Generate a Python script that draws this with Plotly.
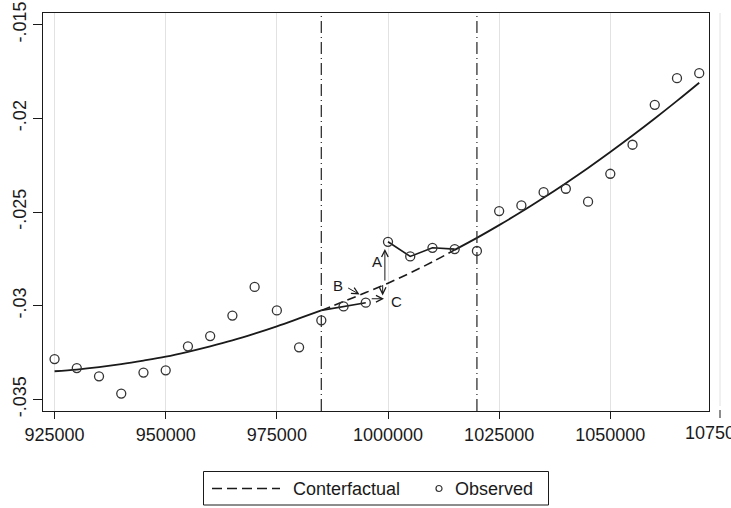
import plotly.graph_objects as go

# observed points
x_obs = [925000, 930000, 935000, 940000, 945000, 950000, 955000, 960000,
         965000, 970000, 975000, 980000, 985000, 990000, 995000, 1000000,
         1005000, 1010000, 1015000, 1020000, 1025000, 1030000, 1035000,
         1040000, 1045000, 1050000, 1055000, 1060000, 1065000, 1070000]
y_obs = [-0.03285, -0.03333, -0.03377, -0.03469, -0.03357, -0.03345,
         -0.03217, -0.03162, -0.03053, -0.02900, -0.03025, -0.03222,
         -0.03078, -0.03004, -0.02984, -0.02659, -0.02737, -0.02691,
         -0.02698, -0.02708, -0.02495, -0.02465, -0.02394, -0.02376,
         -0.02445, -0.02296, -0.02141, -0.01928, -0.01786, -0.01759]

y_fit = [-0.03350, -0.03341, -0.03328, -0.03312, -0.03293, -0.03272,
         -0.03246, -0.03217, -0.03185, -0.03149, -0.03110, -0.03068,
         -0.03025, -0.02978, -0.02930, -0.02880, -0.02825, -0.02766,
         -0.02702, -0.02638, -0.02570, -0.02499, -0.02424, -0.02346,
         -0.02265, -0.02180, -0.02092, -0.02001, -0.01907, -0.01810]

event_lines = [985000, 1020000]
x_ticks = [925000, 950000, 975000, 1000000, 1025000, 1050000]
y_ticks = [-0.035, -0.03, -0.025, -0.02, -0.015]
y_ticktext = ['-.035', '-.03', '-.025', '-.02', '-.015']

W, H = 731, 508
ML, MR, MT, MB = 43, 22, 13, 97
FONT = 'Liberation Sans, Arial, sans-serif'
INK = '#1a1a1a'


def px(x):
    return (x - ML) / (W - ML - MR)


def py(y):
    return (H - MB - y) / (H - MT - MB)


i0 = x_obs.index(985000)
i1 = x_obs.index(1015000)

fig = go.Figure()

# fitted line, solid outside the window
fig.add_trace(go.Scatter(x=x_obs[:i0 + 1], y=y_fit[:i0 + 1], mode='lines',
                         line=dict(color=INK, width=1.8, shape='spline'),
                         showlegend=False, hoverinfo='skip'))
fig.add_trace(go.Scatter(x=x_obs[i1:], y=y_fit[i1:], mode='lines',
                         line=dict(color=INK, width=1.8, shape='spline'),
                         showlegend=False, hoverinfo='skip'))
# counterfactual inside the window
fig.add_trace(go.Scatter(x=x_obs[i0:i1 + 1], y=y_fit[i0:i1 + 1], mode='lines',
                         line=dict(color=INK, width=1.6, dash='9px,5px',
                                   shape='spline'),
                         showlegend=False, hoverinfo='skip'))
# observed path inside the window
fig.add_trace(go.Scatter(x=[x_obs[i0]] + x_obs[i0 + 1:i0 + 3],
                         y=[y_fit[i0]] + y_obs[i0 + 1:i0 + 3], mode='lines',
                         line=dict(color=INK, width=1.6),
                         showlegend=False, hoverinfo='skip'))
fig.add_trace(go.Scatter(x=x_obs[i0 + 3:i1 + 1], y=y_obs[i0 + 3:i1 + 1],
                         mode='lines', line=dict(color=INK, width=1.6),
                         showlegend=False, hoverinfo='skip'))
# observed circles
fig.add_trace(go.Scatter(x=x_obs, y=y_obs, mode='markers',
                         marker=dict(symbol='circle-open', size=9,
                                     color='#333333', line=dict(width=1.3)),
                         showlegend=False))

shapes = []
for xv in event_lines:
    shapes.append(dict(type='line', xref='x', yref='paper', x0=xv, x1=xv,
                       y0=0, y1=1, line=dict(color='#333333', width=1.3,
                                             dash='12px,4px,1px,4px')))

# grid line and tick of 1075000, which sit just past the frame
shapes.append(dict(type='line', xref='paper', yref='paper', x0=px(720),
                   x1=px(720), y0=py(406), y1=1,
                   line=dict(color='#e2e2e2', width=1)))
shapes.append(dict(type='line', xref='paper', yref='paper', x0=px(720),
                   x1=px(720), y0=py(410), y1=py(418),
                   line=dict(color=INK, width=1)))

# legend box
shapes.append(dict(type='rect', xref='paper', yref='paper',
                   x0=px(203.5), x1=px(548.5), y0=py(505), y1=py(471.5),
                   line=dict(color=INK, width=1)))
shapes.append(dict(type='line', xref='paper', yref='paper',
                   x0=px(212), x1=px(280), y0=py(488.5), y1=py(488.5),
                   line=dict(color=INK, width=1.5, dash='10px,5px')))
shapes.append(dict(type='circle', xref='paper', yref='paper',
                   x0=px(436), x1=px(442), y0=py(491.5), y1=py(485.5),
                   line=dict(color='#333333', width=1.2)))

annotations = [
    dict(text='1075000', xref='paper', yref='paper', x=px(720), y=py(421),
         xanchor='center', yanchor='top', showarrow=False,
         font=dict(size=18, color=INK, family=FONT)),
    dict(text='Conterfactual', xref='paper', yref='paper', x=px(291),
         y=py(488.5), xanchor='left', yanchor='middle', showarrow=False,
         font=dict(size=18, color=INK, family=FONT)),
    dict(text='Observed', xref='paper', yref='paper', x=px(453),
         y=py(488.5), xanchor='left', yanchor='middle', showarrow=False,
         font=dict(size=18, color=INK, family=FONT)),
]

# arrows (head at x, y; tail at ax, ay)
arrows = [
    (999300, -0.02697, 999300, -0.02874),
    (998800, -0.02945, 998800, -0.02882),
    (999100, -0.02963, 996000, -0.02963),
    (993600, -0.02940, 990700, -0.02901),
]
for hx, hy, tx, ty in arrows:
    annotations.append(dict(text='', x=hx, y=hy, ax=tx, ay=ty, xref='x',
                            yref='y', axref='x', ayref='y', showarrow=True,
                            arrowhead=5, arrowsize=1.3, arrowwidth=1,
                            arrowcolor=INK, standoff=0, startstandoff=0))

labels = [('A', 997600, -0.02762), ('B', 988850, -0.02892),
          ('C', 1002000, -0.02975)]
for txt, lx, ly in labels:
    annotations.append(dict(text=txt, x=lx, y=ly, xref='x', yref='y',
                            showarrow=False,
                            font=dict(size=15, color=INK, family=FONT)))

fig.update_layout(
    width=W, height=H,
    margin=dict(l=ML, r=MR, t=MT, b=MB, autoexpand=False),
    paper_bgcolor='white', plot_bgcolor='white',
    font=dict(family=FONT, size=18, color=INK),
    showlegend=False,
    shapes=shapes,
    annotations=annotations,
)
fig.update_xaxes(range=[922400, 1072200], tickvals=x_ticks,
                 ticktext=[str(v) for v in x_ticks],
                 showgrid=True, gridcolor='#e2e2e2', gridwidth=1,
                 zeroline=False, ticks='outside', ticklen=7, tickwidth=1,
                 tickcolor=INK, showline=True, linecolor=INK, linewidth=1,
                 mirror=True)
fig.update_yaxes(range=[-0.03562, -0.01438], tickvals=y_ticks,
                 ticktext=y_ticktext, tickangle=-90, showgrid=False,
                 zeroline=False, ticks='outside', ticklen=9, tickwidth=1,
                 tickcolor=INK, showline=True, linecolor=INK, linewidth=1,
                 mirror=True)

# the page body has a default margin; drop it so the figure fills the window
fig.write_html("out.html", config={'displayModeBar': False},
               post_script="document.body.style.margin='0';")
